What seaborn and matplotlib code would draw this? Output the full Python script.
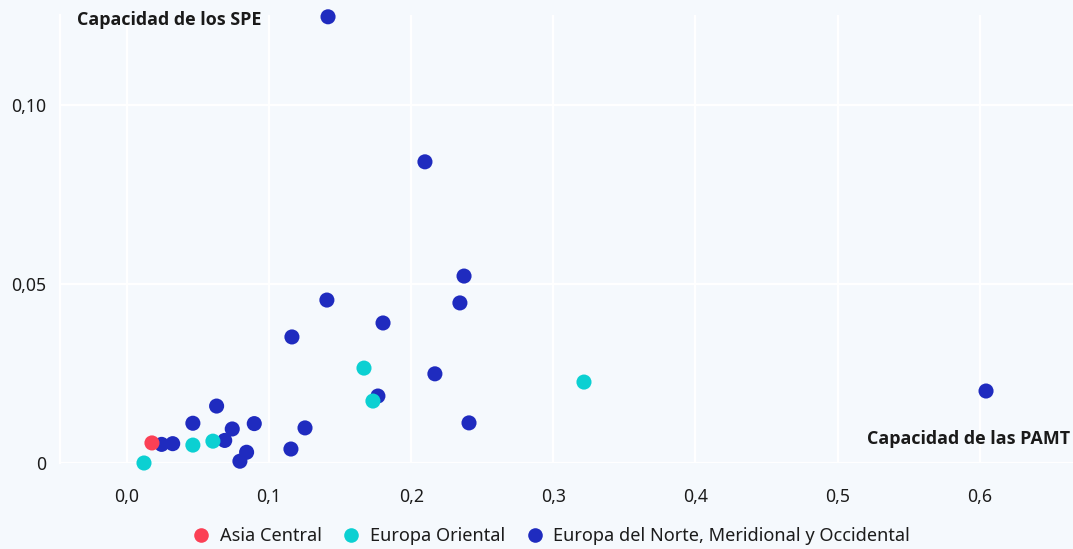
import matplotlib
matplotlib.use("Agg")
import matplotlib.pyplot as plt
import seaborn as sns
import pandas as pd
from matplotlib.lines import Line2D

# Data
regions = ["Asia Central", "Europa Oriental", "Europa del Norte, Meridional y Occidental"]
colors = ["#fb4055", "#0bd0d2", "#1f2bbf"]

norte_x = [0.1415, 0.2097, 0.2372, 0.2343, 0.1407, 0.1802, 0.1161, 0.2167, 0.1766,
           0.2407, 0.1253, 0.1154, 0.6045, 0.0244, 0.0322, 0.0631, 0.0464, 0.0741,
           0.0896, 0.0688, 0.0842, 0.0795]
norte_y = [0.1246, 0.0841, 0.0522, 0.0447, 0.0455, 0.0391, 0.0352, 0.0249, 0.0187,
           0.0112, 0.0098, 0.0039, 0.0201, 0.0052, 0.0054, 0.0159, 0.0111, 0.0095,
           0.0110, 0.0063, 0.0030, 0.0005]
oriental_x = [0.0120, 0.0464, 0.0605, 0.1668, 0.1731, 0.3216]
oriental_y = [0.0000, 0.0050, 0.0061, 0.0265, 0.0173, 0.0226]
central_x = [0.0176]
central_y = [0.0056]

x_ticks = [0.0, 0.1, 0.2, 0.3, 0.4, 0.5, 0.6]
x_labels = ["0,0", "0,1", "0,2", "0,3", "0,4", "0,5", "0,6"]
y_ticks = [0.0, 0.05, 0.10]
y_labels = ["0", "0,05", "0,10"]

df = pd.concat([
    pd.DataFrame({"x": norte_x, "y": norte_y, "region": regions[2]}),
    pd.DataFrame({"x": oriental_x, "y": oriental_y, "region": regions[1]}),
    pd.DataFrame({"x": central_x, "y": central_y, "region": regions[0]}),
], ignore_index=True)

sns.set_theme(style="white")
plt.rcParams["font.family"] = ["Noto Sans", "DejaVu Sans"]

bg = "#f5f9fd"
fig = plt.figure(figsize=(10.73, 5.49), dpi=100, facecolor=bg)
ax = fig.add_axes([60 / 1073, 86 / 549, 1 - 60 / 1073, 448 / 549])
ax.set_facecolor(bg)

sns.scatterplot(data=df, x="x", y="y", hue="region", hue_order=regions,
                palette=dict(zip(regions, colors)), s=118, linewidth=0,
                ax=ax, legend=False, clip_on=False, zorder=3)

ax.set_xlim(-0.0471, 0.6657)
ax.set_ylim(0, 0.1251)
ax.set_xticks(x_ticks)
ax.set_xticklabels(x_labels)
ax.set_yticks(y_ticks)
ax.set_yticklabels(y_labels)
ax.grid(True, color="white", linewidth=1.6)
ax.set_axisbelow(True)
ax.tick_params(axis="x", length=0, pad=18, labelsize=12.7, colors="#1c1c1c")
ax.tick_params(axis="y", length=0, pad=10, labelsize=12.7, colors="#1c1c1c")
ax.set_xlabel("")
ax.set_ylabel("")
for side in ["top", "right", "bottom"]:
    ax.spines[side].set_visible(False)
ax.spines["left"].set_color("white")
ax.spines["left"].set_linewidth(1.6)

bold_family = ["Open Sans", "Noto Sans", "DejaVu Sans"]
fig.text(77 / 1073, 1 - 20 / 549, "Capacidad de los SPE", fontsize=12.9, fontweight="bold",
         family=bold_family, color="#1a1a1a", ha="left", va="center")
fig.text(1070 / 1073, 1 - 439 / 549, "Capacidad de las PAMT", fontsize=12.9, fontweight="bold",
         family=bold_family, color="#1a1a1a", ha="right", va="center")

handles = [Line2D([0], [0], marker="o", linestyle="", markersize=10.5,
                  markerfacecolor=c, markeredgewidth=0) for c in colors]
fig.legend(handles, regions, loc="center", bbox_to_anchor=(552 / 1073, 1 - 536 / 549),
           ncol=3, frameon=False, fontsize=13.1, handletextpad=0.63, columnspacing=1.22,
           handlelength=0.8, labelcolor="#1c1c1c")

fig.savefig("out.png", dpi=100, facecolor=bg)
